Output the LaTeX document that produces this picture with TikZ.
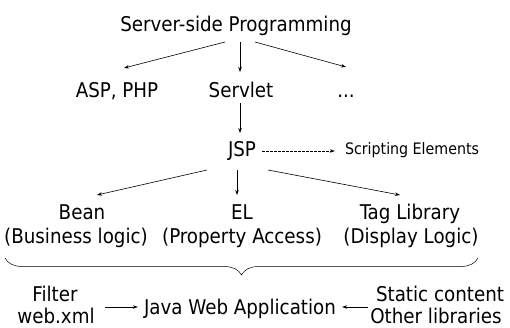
\documentclass[tikz,border=0pt]{standalone}
\usepackage{fontspec}
\setmainfont{DejaVu Sans Condensed}
\usetikzlibrary{arrows.meta,decorations.pathreplacing}
\tikzset{
  lbl/.style={inner sep=0pt, anchor=base, font=\fontsize{20.3}{22}\selectfont},
  small/.style={inner sep=0pt, anchor=base, font=\fontsize{15.8}{18}\selectfont},
  conn/.style={line width=0.6pt, -{Stealth[length=5pt,width=3.5pt]}},
}
\begin{document}
\begin{tikzpicture}[x=1pt,y=-1pt]
\useasboundingbox (0,0) rectangle (510,327);
\node[lbl] (ssp) at (236,31) {Server-side Programming};
\node[lbl] (asp) at (117,97) {ASP, PHP};
\node[lbl] (servlet) at (241,97) {Servlet};
\node[lbl] (dots) at (346,97) {...};
\node[lbl] (jsp) at (242,156.5) {JSP};
\node[small] (se) at (412,154) {Scripting Elements};
\node[lbl] (bean) at (82,219) {Bean};
\node[lbl] (bl) at (76,243) {(Business logic)};
\node[lbl] (el) at (242,219) {EL};
\node[lbl] (pa) at (242,243) {(Property Access)};
\node[lbl] (tag) at (410,219) {Tag Library};
\node[lbl] (dl) at (411,243) {(Display Logic)};
\node[lbl] (filter) at (55,301) {Filter};
\node[lbl] (web) at (56,323.5) {web.xml};
\node[lbl] (jwa) at (240,314) {Java Web Application};
\node[lbl] (static) at (440,301) {Static content};
\node[lbl] (other) at (436,323.5) {Other libraries};
\coordinate (bl1) at (5,258);
\coordinate (br1) at (478,258);

\draw[conn] (225,42) -- (124,68);
\draw[conn] (240,42) -- (240,72);
\draw[conn] (255,42) -- (346,67);
\draw[conn] (240,103) -- (240,133);
\draw[conn, dash pattern=on 2.5pt off 1.5pt] (jsp.east) ++(6,0) coordinate (d1) -- ([xshift=-10pt]d1 -| se.west);
\draw[conn] (207,170) -- (97,195);
\draw[conn] (237,170) -- (237,195);
\draw[conn] (268,170) -- (400,195);
\draw[line width=0.5pt, decorate, decoration={brace, mirror, amplitude=17pt}] (bl1) -- (br1);
\draw[conn] (105,307) -- ([xshift=-6pt]jwa.west |- 0,307);
\draw[conn] (368,307) -- ([xshift=6pt]jwa.east |- 0,307);
\end{tikzpicture}
\end{document}
